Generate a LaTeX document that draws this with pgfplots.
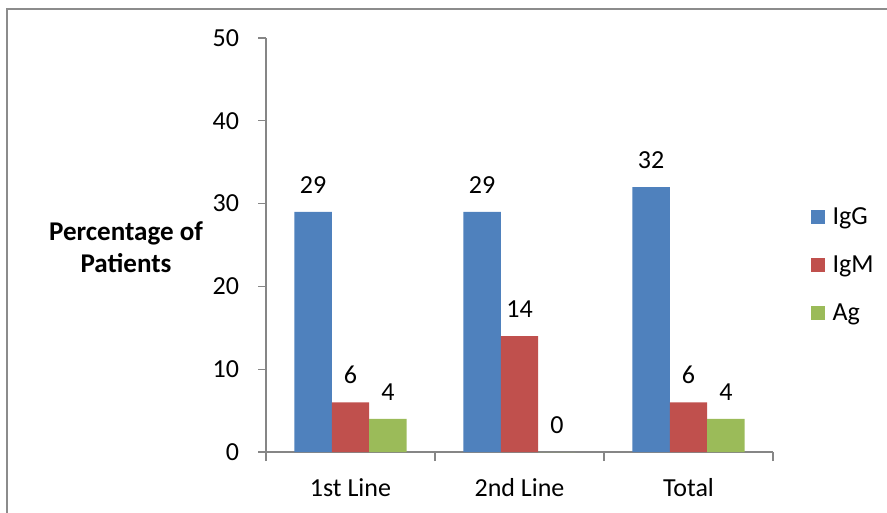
\documentclass[border=0pt]{standalone}
\usepackage{pgfplots}
\pgfplotsset{compat=1.18}
\usepackage{fontspec}
\setmainfont{Carlito}

\definecolor{igg}{HTML}{4F81BD}
\definecolor{igm}{HTML}{C0504D}
\definecolor{ag}{HTML}{9BBB59}
\definecolor{axisgray}{HTML}{868686}
\definecolor{framegray}{HTML}{8C8C8C}

\begin{document}
\begin{tikzpicture}[x=1pt,y=1pt]
  % page: 887 x 512 px at 0.75 pt per px
  \useasboundingbox (0,0) rectangle (665.25,384);
  \clip (0,0) rectangle (665.25,384);
  % outer chart frame (runs off the right and bottom edges)
  \draw[framegray, line width=1.5pt] (4.9,-10) -- (4.9,377.6) -- (700,377.6);

  \begin{axis}[
    at={(199.5pt,45pt)}, anchor=south west,
    scale only axis,
    width=380.25pt, height=310.5pt,
    xmin=-0.5, xmax=2.5, ymin=0, ymax=50,
    enlargelimits=false,
    axis x line*=bottom, axis y line*=left,
    axis line style={axisgray, line width=0.9pt, -},
    ybar=0pt, bar width=28.1pt,
    xtick={0,1,2},
    xticklabels={1st Line, 2nd Line, Total},
    minor xtick={-0.5,0.5,1.5,2.5},
    major x tick style={draw=none},
    minor x tick style={axisgray, line width=0.9pt},
    minor tick length=6.75pt,
    ytick={0,10,20,30,40,50},
    ytick style={axisgray, line width=0.9pt},
    major tick length=6pt,
    tick align=outside,
    /pgf/number format/assume math mode=true,
    ticklabel style={font=\fontsize{19.5}{22}\selectfont},
    yticklabel style={anchor=east, inner sep=0pt, xshift=-14pt},
    xticklabel style={anchor=base, inner sep=0pt},
    every x tick label/.append style={yshift=-27.5pt},
    ylabel={Percentage of\\Patients},
    ylabel style={at={(rel axis cs:-0.276,0.495)}, rotate=-90, anchor=center,
      align=center, font=\fontsize{20.3}{24}\selectfont\bfseries},
    nodes near coords,
    every node near coord/.append style={font=\fontsize{19.5}{22}\selectfont,
      anchor=south, inner sep=0pt, yshift=13.5pt, text=black},
    legend style={at={(rel axis cs:1.075,0.452)}, anchor=west, draw=none,
      inner sep=0pt, row sep=22pt,
      font=\fontsize{19.5}{22}\selectfont,
      nodes={inner sep=0pt, anchor=west}},
    legend cell align=left,
    legend image code/.code={\fill[#1] (0pt,-5.25pt) rectangle (10.5pt,5.25pt);},
  ]
    \addplot[fill=igg, draw=none] coordinates {(0,29) (1,29) (2,32)};
    \addplot[fill=igm, draw=none] coordinates {(0,6) (1,14) (2,6)};
    \addplot[fill=ag, draw=none] coordinates {(0,4) (1,0) (2,4)};
    \legend{\hspace{5.5pt}IgG,\hspace{5.5pt}IgM,\hspace{5.5pt}Ag}
  \end{axis}
\end{tikzpicture}
\end{document}
